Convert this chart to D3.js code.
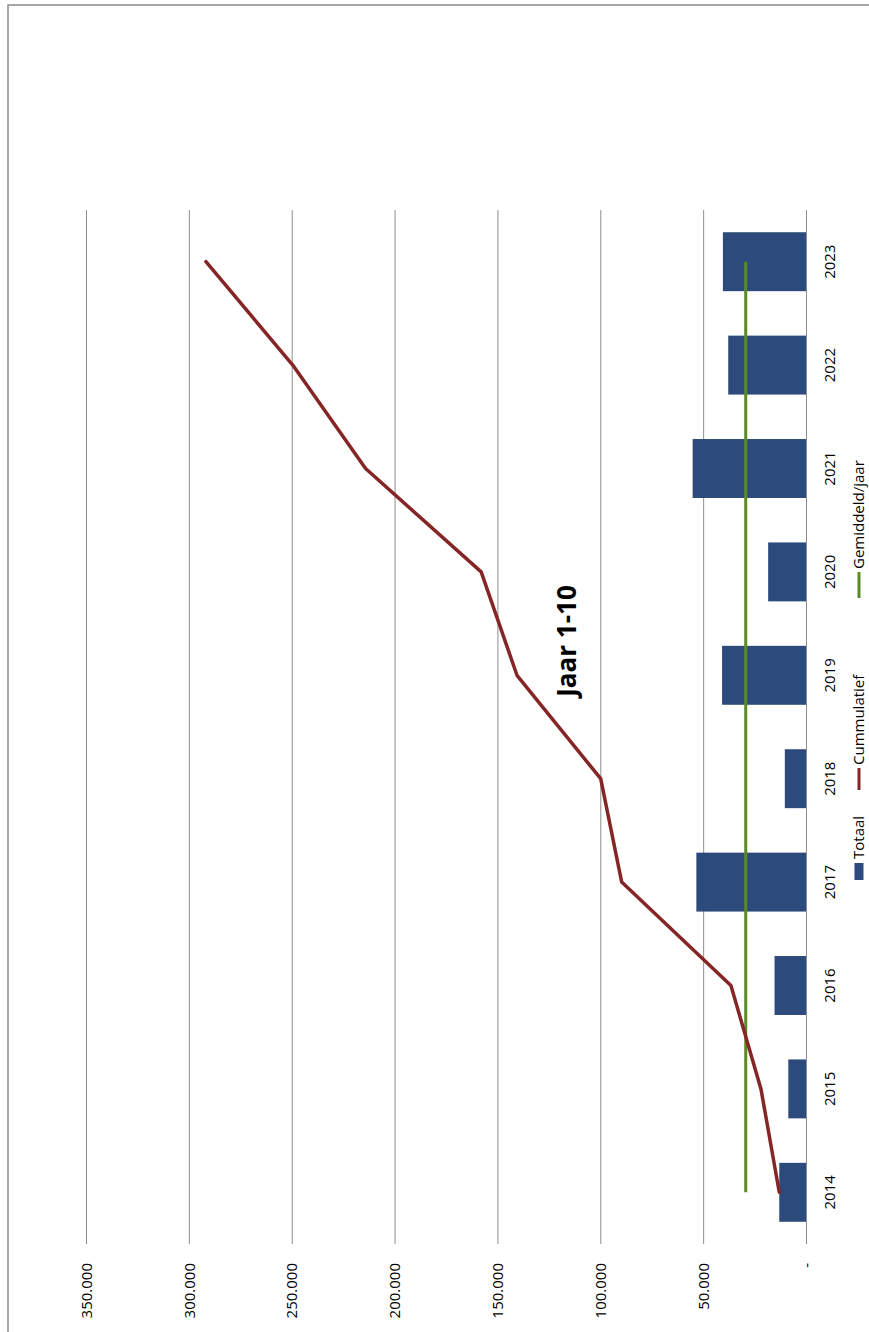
<!DOCTYPE html>
<html>
<head>
<meta charset="utf-8">
<script src="https://cdn.jsdelivr.net/npm/d3@7"></script>
<style>
  body { margin: 0; background: #fff; }
  text { font-family: "Open Sans", sans-serif; fill: #000; }
</style>
</head>
<body>
<div id="chart"></div>
<script>
const years = ["2014", "2015", "2016", "2017", "2018", "2019", "2020", "2021", "2022", "2023"]
const totaal = [13000, 8600, 15300, 53300, 10300, 40800, 18400, 55100, 37800, 40400]
const cummulatief = [13000, 21900, 36500, 89600, 99800, 140500, 157900, 214100, 249500, 291700]
const gemiddeld = [29300, 29300, 29300, 29300, 29300, 29300, 29300, 29300, 29300, 29300]
const valueTicks = [0, 50000, 100000, 150000, 200000, 250000, 300000, 350000]
const title = "Jaar 1-10"
const legendLabels = ["Totaal", "Cummulatief", "Gemiddeld/jaar"]

const width = 869, height = 1332
// plot area on the page (the whole chart is turned a quarter to the left)
const plot = {left: 86, right: 806, top: 210, bottom: 1244}

const colors = {bar: "#2c4a7c", cum: "#862526", avg: "#5c8a22", grid: "#8e8e8e"}

const svg = d3.select("#chart")
  .append("svg")
    .attr("width", width)
    .attr("height", height)

// chart border (right and bottom fall off the page)
svg.append("rect")
  .attr("x", 8).attr("y", 5)
  .attr("width", 900).attr("height", 1400)
  .attr("fill", "none")
  .attr("stroke", "#8a8a8a")
  .attr("stroke-width", 1.5)

// value axis runs right -> left
const x = d3.scaleLinear()
  .domain([0, 350000])
  .range([plot.right, plot.left])

// categories run bottom -> top
const y = d3.scaleBand()
  .domain(years)
  .range([plot.bottom, plot.top])
  .paddingInner(0.43)
  .paddingOuter(0.215)

const nl = d3.formatLocale({decimal: ",", thousands: ".", grouping: [3], currency: ["€ ", ""]})
const fmt = nl.format(",.0f")

// gridlines + value labels
const xAxis = d3.axisBottom(x)
  .tickValues(valueTicks)
  .tickSize(-(plot.bottom - plot.top))
  .tickFormat(d => d === 0 ? "-" : fmt(d))

svg.append("g")
  .attr("transform", `translate(0,${plot.bottom})`)
  .call(xAxis)
  .call(g => g.select(".domain").remove())
  .call(g => g.selectAll(".tick line").attr("stroke", colors.grid).attr("stroke-width", 1))
  .call(g => g.selectAll(".tick text")
    .attr("transform", "rotate(-90)")
    .attr("x", -19)
    .attr("y", 0)
    .attr("dy", "0.35em")
    .attr("text-anchor", "end")
    .attr("font-size", 15)
    .attr("fill", "#000"))

// bars
svg.append("g")
  .selectAll("rect")
  .data(years)
  .join("rect")
    .attr("x", (d, i) => x(totaal[i]))
    .attr("y", d => y(d))
    .attr("width", (d, i) => x(0) - x(totaal[i]))
    .attr("height", y.bandwidth())
    .attr("fill", colors.bar)

// category labels
const yAxis = d3.axisRight(y).tickSize(0)
svg.append("g")
  .attr("transform", `translate(${plot.right},0)`)
  .call(yAxis)
  .call(g => g.select(".domain").remove())
  .call(g => g.selectAll(".tick text")
    .attr("transform", "rotate(-90)")
    .attr("x", 0)
    .attr("y", 24)
    .attr("dy", "0.35em")
    .attr("text-anchor", "middle")
    .attr("font-size", 15)
    .attr("fill", "#000"))

const mid = d => y(d) + y.bandwidth() / 2

const line = d3.line()
  .x(d => x(d[1]))
  .y(d => mid(d[0]))

svg.append("path")
  .datum(years.map((d, i) => [d, gemiddeld[i]]))
  .attr("d", line)
  .attr("fill", "none")
  .attr("stroke", colors.avg)
  .attr("stroke-width", 3)

svg.append("path")
  .datum(years.map((d, i) => [d, cummulatief[i]]))
  .attr("d", line)
  .attr("fill", "none")
  .attr("stroke", colors.cum)
  .attr("stroke-width", 3.5)
  .attr("stroke-linejoin", "round")
  .attr("stroke-linecap", "round")

// title
svg.append("text")
  .attr("transform", "translate(567,641) rotate(-90)")
  .attr("text-anchor", "middle")
  .attr("dy", "0.35em")
  .attr("font-size", 26)
  .attr("font-weight", "bold")
  .text(title)

// legend, also turned
const legend = svg.append("g")
  .attr("transform", "translate(859,880) rotate(-90)")

const itemStart = [0, 90, 282]

legend.append("rect")
  .attr("x", itemStart[0]).attr("y", -4.5)
  .attr("width", 17).attr("height", 9)
  .attr("fill", colors.bar)

legend.append("line")
  .attr("x1", itemStart[1]).attr("x2", itemStart[1] + 22)
  .attr("stroke", colors.cum).attr("stroke-width", 3)

legend.append("line")
  .attr("x1", itemStart[2]).attr("x2", itemStart[2] + 26)
  .attr("stroke", colors.avg).attr("stroke-width", 3)

legend.selectAll("text")
  .data(legendLabels)
  .join("text")
    .attr("x", (d, i) => itemStart[i] + (i === 0 ? 21 : i === 1 ? 25 : 29))
    .attr("y", 0)
    .attr("dy", "0.35em")
    .attr("font-size", 15)
    .text(d => d)
</script>
</body>
</html>
